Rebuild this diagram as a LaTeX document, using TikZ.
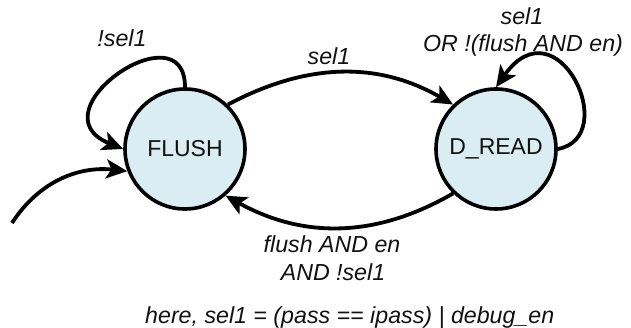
\documentclass[tikz,border=0pt]{standalone}
\usepackage{fontspec}
\setmainfont{Liberation Sans}
\usetikzlibrary{arrows.meta}
\definecolor{statefill}{HTML}{DAEDF3}
\definecolor{ink}{HTML}{111111}
\tikzset{
  state/.style={circle, draw=black, line width=3.6pt, fill=statefill, minimum size=120pt, inner sep=0pt, text=ink, font=\fontsize{23}{27}\selectfont},
  trans/.style={line width=3.8pt, -{Stealth[length=21pt,width=19pt,inset=5pt]}},
  lbl/.style={anchor=base, inner sep=0pt, text=ink, font=\fontsize{23.2}{27}\selectfont\itshape}
}
\begin{document}
\begin{tikzpicture}[x=1pt,y=-1pt]
\useasboundingbox (0,0) rectangle (631,328);
\node[state] (F) at (185,149) {FLUSH};
\node[state] (D) at (496,149) {D\_READ};
\coordinate (init) at (12,223);

\draw[trans] (F.90) .. controls (185,7) and (32,112) .. (F.180);
\draw[trans] (D.0) .. controls (622,137) and (557,1) .. (D.90);
\draw[trans] (F.46) to[out=28,in=150] (D.134);
\draw[trans] (D.226) to[out=210,in=331] (F.311);
\draw[trans] (init) to[out=57,in=174] (F.201);

\node[lbl] (l1) at (122,47) {!sel1};
\node[lbl] (l2) at (329,65) {sel1};
\node[lbl] (l3a) at (522,25) {sel1};
\node[lbl] (l3b) at (523,52) {OR !(flush AND en)};
\node[lbl] (l4a) at (332,253) {flush AND en};
\node[lbl] (l4b) at (333,280) {AND !sel1};
\node[lbl, anchor=base west] (note) at (145,323) {here, sel1 = (pass == ipass) | debug\_en};
\end{tikzpicture}
\end{document}
